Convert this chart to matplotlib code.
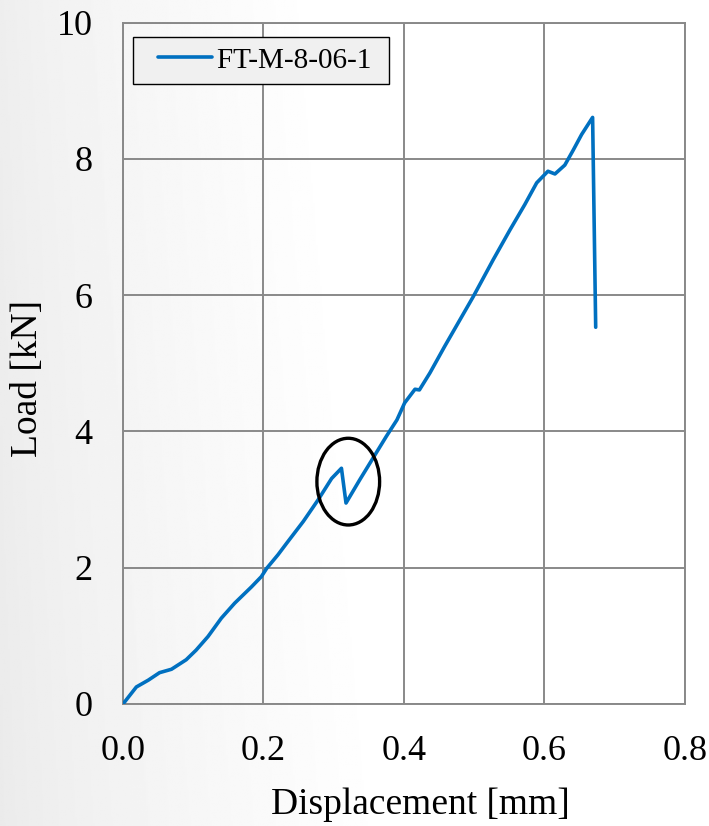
import numpy as np
import matplotlib.pyplot as plt
from matplotlib.patches import Ellipse
from matplotlib.legend_handler import HandlerLine2D
from matplotlib.ticker import FormatStrFormatter

# Load-displacement readings for specimen FT-M-8-06-1
disp = [0.0, 0.019, 0.036, 0.052, 0.069, 0.090, 0.104, 0.121, 0.140, 0.159,
        0.183, 0.197, 0.2045, 0.2206, 0.233, 0.2567, 0.278, 0.297, 0.311,
        0.3175, 0.337, 0.356, 0.375, 0.390, 0.401, 0.4157, 0.422, 0.437,
        0.458, 0.4987, 0.527, 0.551, 0.572, 0.589, 0.605, 0.615, 0.629,
        0.641, 0.653, 0.6686, 0.673]
load = [0.0, 0.25, 0.35, 0.46, 0.51, 0.65, 0.79, 0.99, 1.26, 1.48,
        1.72, 1.87, 1.99, 2.19, 2.36, 2.68, 3.00, 3.31, 3.46,
        2.95, 3.29, 3.61, 3.93, 4.17, 4.42, 4.62, 4.61, 4.86,
        5.25, 5.98, 6.52, 6.96, 7.33, 7.65, 7.82, 7.78, 7.91,
        8.13, 8.36, 8.61, 5.53]
series_name = "FT-M-8-06-1"
x_ticks = [0.0, 0.2, 0.4, 0.6, 0.8]
y_ticks = [0, 2, 4, 6, 8, 10]

plt.rcParams.update({
    "font.family": ["Liberation Serif", "DejaVu Serif"],
    "font.size": 26,
})

fig = plt.figure(figsize=(7.09, 8.26), dpi=100)

# soft grey-to-white background
bg = fig.add_axes([0, 0, 1, 1], zorder=-5)
gx = np.linspace(0, 1, 400)
gy = np.linspace(0, 1, 400)
GX, GY = np.meshgrid(gx, gy)
shade = 0.92 + 0.08 * np.clip((GX / 0.55) ** 0.8 + 0.15 * GY, 0, 1)
bg.imshow(shade, cmap="gray", vmin=0, vmax=1, aspect="auto",
          extent=[0, 1, 0, 1], origin="lower")
bg.axis("off")

ax = fig.add_axes([0.1735, 0.1477, 0.7925, 0.8248])
ax.patch.set_alpha(0)

ax.plot(disp, load, color="#0070C0", lw=2.6, label=series_name + " ",
        solid_joinstyle="round", solid_capstyle="round", zorder=3)

circle = Ellipse((0.3207, 3.264), 0.0893, 1.273, fill=False,
                 edgecolor="black", lw=2.4, zorder=4)
ax.add_patch(circle)

ax.set_xlim(0, 0.8)
ax.set_ylim(0, 10)
ax.set_xticks(x_ticks)
ax.set_yticks(y_ticks)
ax.xaxis.set_major_formatter(FormatStrFormatter("%.1f"))
ax.tick_params(length=0, pad=22)
ax.grid(True, color="#898989", lw=1.4)
for s in ax.spines.values():
    s.set_color("#898989")
    s.set_linewidth(1.4)

ax.set_xlabel("Displacement [mm]", fontsize=27)
ax.set_ylabel("Load [kN]", fontsize=27)
ax.xaxis.set_label_coords(0.53, -0.123)
ax.yaxis.set_label_coords(-0.138, 0.478)

leg = ax.legend(loc="upper left", bbox_to_anchor=(0.0178, 0.9795),
                fontsize=21, frameon=True, fancybox=False,
                handlelength=2.35, handletextpad=0.17, borderpad=0.36,
                borderaxespad=0,
                handler_map={plt.Line2D: HandlerLine2D(xpad=0.5)})
leg.get_frame().set_facecolor("#f0f0f0")
leg.get_frame().set_edgecolor("black")
leg.get_frame().set_linewidth(1.0)
leg.get_frame().set_alpha(1)

fig.savefig("out.png", dpi=100)
plt.close(fig)
